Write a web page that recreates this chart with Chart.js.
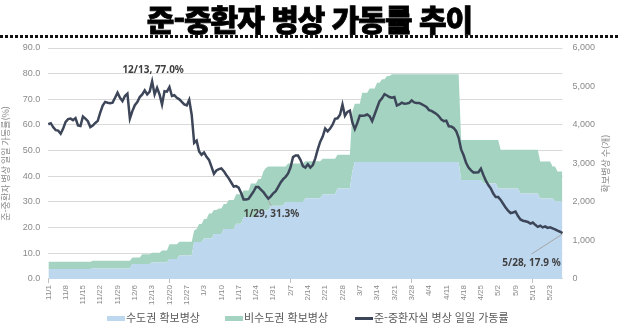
<!DOCTYPE html>
<html lang="ko">
<head>
<meta charset="utf-8">
<script src="https://cdn.jsdelivr.net/npm/chart.js@4.4.1/dist/chart.umd.min.js"></script>
<style>
  html, body { margin: 0; padding: 0; background: #fff; }
  #wrap { position: relative; width: 619px; height: 334px; overflow: hidden; }
  #title { position: absolute; left: 0; top: 3px; width: 619px; text-align: center;
           font: 900 30px/30px "Noto Sans CJK KR", sans-serif; letter-spacing: -1px; color: #000;
           -webkit-text-stroke: 0.8px #000; }
  #dots { position: absolute; left: 0; top: 35px; width: 619px; height: 3px;
          background-image: linear-gradient(to right, #111 60%, transparent 60%); background-size: 5px 3px; }
  canvas { position: absolute; left: 0; top: 0; }
  .ley { position: absolute; top: 309px; height: 16px; font: 11px/16px "Noto Sans CJK KR", sans-serif;
         color: #595959; white-space: nowrap; }
  .ley i { display: inline-block; width: 18px; height: 5px; vertical-align: middle; margin-right: 1px;
           position: relative; top: -1px; }
</style>
</head>
<body>
<div id="wrap">
  <canvas id="grafico" width="619" height="334"></canvas>
  <div id="title">준-중환자 병상 가동률 추이</div>
  <div id="dots"></div>
  <div id="leyenda"></div>
</div>
<script>
// 2021-11-01 ~ 2022-05-28 (daily)
const dayCount = 209;
const dateLabels = [];
for (let i = 0; i < dayCount; i++) {
    let d = new Date(2021, 10, 1 + i);
    dateLabels.push(`${d.getMonth() + 1}/${d.getDate()}`);
}

const leftTicks = [0, 10, 20, 30, 40, 50, 60, 70, 80, 90];
const rightTicks = [0, 1000, 2000, 3000, 4000, 5000, 6000];

// 수도권 확보병상
const capitalBeds = [
    257, 257, 257, 257, 257, 257, 257, 257, 257, 257,
    257, 257, 257, 257, 257, 257, 257, 257, 275, 275,
    275, 275, 275, 275, 275, 275, 275, 275, 275, 275,
    275, 275, 275, 275, 390, 390, 390, 390, 390, 390,
    390, 390, 430, 430, 430, 430, 430, 430, 430, 520,
    520, 520, 520, 610, 610, 610, 610, 610, 610, 960,
    960, 960, 960, 1050, 1050, 1050, 1050, 1170, 1170, 1170,
    1170, 1300, 1300, 1300, 1300, 1300, 1435, 1435, 1435, 1610,
    1610, 1610, 1610, 1610, 1610, 1785, 1785, 1785, 1785, 1785,
    1900, 1900, 1900, 1900, 1900, 1900, 2000, 2000, 2000, 2000,
    2000, 2000, 2000, 2000, 2100, 2100, 2100, 2100, 2100, 2100,
    2100, 2200, 2200, 2200, 2200, 2200, 2200, 2350, 2350, 2350,
    2350, 2350, 2350, 2790, 3040, 3040, 3040, 3040, 3040, 3040,
    3040, 3040, 3040, 3040, 3040, 3040, 3040, 3040, 3040, 3040,
    3040, 3040, 3040, 3040, 3040, 3040, 3040, 3040, 3040, 3040,
    3040, 3040, 3040, 3040, 3040, 3040, 3040, 3040, 3040, 3040,
    3040, 3040, 3040, 3040, 3040, 3040, 3040, 2570, 2570, 2570,
    2570, 2570, 2570, 2570, 2570, 2570, 2480, 2480, 2480, 2480,
    2480, 2480, 2350, 2350, 2350, 2350, 2350, 2350, 2350, 2350,
    2350, 2220, 2220, 2220, 2220, 2220, 2220, 2220, 2220, 2090,
    2090, 2090, 2090, 2090, 2090, 2020, 2020, 2020, 2020
];

// 비수도권 확보병상
const nonCapitalBeds = [
    188, 188, 188, 188, 188, 188, 188, 188, 188, 188,
    188, 188, 188, 188, 188, 188, 188, 188, 200, 200,
    200, 200, 200, 200, 200, 200, 200, 200, 200, 200,
    200, 200, 200, 200, 170, 170, 170, 170, 250, 250,
    250, 250, 250, 250, 250, 250, 310, 310, 310, 380,
    380, 380, 380, 355, 355, 355, 355, 355, 355, 300,
    340, 470, 470, 510, 510, 650, 650, 620, 620, 660,
    660, 650, 650, 750, 750, 750, 765, 765, 765, 690,
    690, 690, 870, 870, 870, 815, 815, 1005, 1095, 1135,
    1020, 1020, 1020, 1020, 1020, 1020, 920, 1000, 1000, 1000,
    1000, 1000, 1000, 1000, 960, 960, 960, 960, 960, 960,
    960, 920, 920, 920, 920, 920, 920, 875, 875, 875,
    875, 875, 875, 1570, 1510, 1510, 1510, 1800, 1800, 1800,
    1910, 1910, 1910, 2060, 2060, 2150, 2150, 2235, 2235, 2280,
    2280, 2280, 2280, 2280, 2280, 2280, 2280, 2280, 2280, 2280,
    2280, 2280, 2280, 2280, 2280, 2280, 2280, 2280, 2280, 2280,
    2280, 2280, 2280, 2280, 2280, 2280, 2280, 1040, 1040, 1040,
    1040, 1040, 1040, 1040, 1040, 1040, 1130, 1130, 1130, 1130,
    1130, 1130, 1260, 1010, 1010, 1010, 1010, 1010, 1010, 1010,
    1010, 1140, 1140, 1140, 1140, 1140, 1140, 1140, 1140, 960,
    960, 960, 960, 960, 830, 900, 770, 770, 770
];

// 준-중환자실 병상 일일 가동률 (%)
const occupancyRate = [
    60.3, 60.7, 59.1, 58.0, 57.8, 56.6, 58.6, 61.2, 62.3, 62.5,
    61.9, 62.7, 59.8, 59.6, 63.3, 62.5, 61.5, 59.2, 59.8, 60.8,
    61.6, 64.8, 67.6, 69.0, 68.7, 68.5, 68.7, 70.6, 72.6, 70.6,
    69.3, 71.3, 72.2, 62.5, 65.4, 67.7, 68.9, 70.9, 71.9, 73.5,
    71.9, 73.0, 77.0, 71.9, 74.5, 71.9, 68.0, 73.2, 73.0, 74.8,
    71.3, 71.6, 70.6, 70.0, 69.0, 68.0, 67.6, 69.8, 64.0, 53.0,
    53.9, 49.7, 48.4, 49.3, 47.6, 46.4, 43.8, 41.0, 42.3, 42.8,
    43.1, 42.0, 40.5, 39.2, 37.6, 36.0, 36.2, 35.6, 33.5, 31.0,
    31.0, 31.2, 32.6, 34.0, 35.8, 35.8, 34.8, 33.9, 32.5, 31.3,
    32.2, 33.4, 34.2, 35.9, 37.6, 38.9, 39.8, 41.1, 43.5, 47.5,
    48.1, 48.1, 46.4, 44.0, 43.4, 44.7, 43.4, 44.4, 47.0, 50.5,
    53.5, 55.5, 58.6, 57.5, 58.6, 60.1, 62.4, 62.6, 64.0, 68.0,
    63.6, 65.1, 65.6, 61.0, 58.4, 60.8, 63.7, 63.6, 63.7, 64.1,
    63.4, 61.5, 64.1, 66.7, 69.3, 70.4, 72.0, 71.5, 70.9, 70.6,
    70.9, 67.6, 68.0, 68.7, 68.3, 68.4, 68.6, 69.6, 68.8, 68.6,
    68.6, 68.1, 67.6, 67.0, 65.8, 65.5, 64.9, 64.3, 63.4, 62.1,
    61.5, 61.7, 59.5, 59.4, 58.8, 57.6, 55.0, 50.5, 48.2, 45.3,
    43.4, 42.3, 41.5, 41.5, 41.6, 43.0, 40.5, 38.3, 36.6, 35.3,
    33.3, 31.9, 31.9, 30.8, 29.3, 27.8, 26.6, 25.7, 25.9, 26.3,
    24.5, 23.2, 22.7, 22.5, 22.2, 21.6, 22.0, 21.1, 20.3, 20.8,
    20.1, 20.5, 19.9, 20.1, 19.7, 19.3, 18.8, 18.4, 17.9
];

const calloutIdx = [42, 89, 208];
const calloutText = ['12/13, 77.0%', '1/29, 31.3%', '5/28, 17.9 %'];

const seriesNames = ['수도권 확보병상', '비수도권 확보병상', '준-중환자실 병상 일일 가동률'];
const seriesColors = ['#bdd7ee', '#a4d4c1', '#3d4659'];
const legendLeft = [107, 225, 355];

const tickFont = { family: '"Liberation Sans", sans-serif', size: 9 };
const grisTexto = '#8a8a8a';

const calloutPlugin = {
    id: 'callouts',
    afterDatasetsDraw(chart) {
        let ctx = chart.ctx;
        let pts = chart.getDatasetMeta(2).data;
        ctx.save();
        ctx.strokeStyle = '#a6a6a6';
        ctx.lineWidth = 1;
        let p = pts[calloutIdx[1]];
        ctx.beginPath(); ctx.moveTo(p.x, p.y + 2); ctx.lineTo(p.x + 3, p.y + 7); ctx.stroke();
        p = pts[calloutIdx[2]];
        ctx.beginPath(); ctx.moveTo(p.x, p.y + 1); ctx.lineTo(p.x - 31, p.y + 21); ctx.stroke();

        ctx.font = 'bold 10px "Noto Sans", sans-serif';
        ctx.fillStyle = '#404040';
        ctx.textAlign = 'center';
        ctx.textBaseline = 'middle';
        p = pts[calloutIdx[0]];
        ctx.fillText(calloutText[0], p.x + 1, p.y - 11);
        p = pts[calloutIdx[1]];
        ctx.fillText(calloutText[1], p.x + 3, p.y + 16);
        p = pts[calloutIdx[2]];
        ctx.fillText(calloutText[2], p.x - 31, p.y + 30);

        // right axis title, reading bottom to top like the left one
        let area = chart.chartArea;
        ctx.translate(606, (area.top + area.bottom) / 2);
        ctx.rotate(-Math.PI / 2);
        ctx.font = '9px "Noto Sans CJK KR", sans-serif';
        ctx.fillStyle = grisTexto;
        ctx.fillText('확보병상 수(개)', 0, 0);
        ctx.restore();
    }
};

let ctx = document.getElementById('grafico').getContext('2d');
let grafico = new Chart(ctx, {
    type: 'line',
    data: {
        labels: dateLabels,
        datasets: [{
            label: seriesNames[0],
            data: capitalBeds,
            yAxisID: 'y2',
            backgroundColor: seriesColors[0],
            borderColor: seriesColors[0],
            borderWidth: 0,
            pointRadius: 0,
            fill: 'origin',
            order: 1
        }, {
            label: seriesNames[1],
            data: nonCapitalBeds,
            yAxisID: 'y2',
            backgroundColor: seriesColors[1],
            borderColor: seriesColors[1],
            borderWidth: 0,
            pointRadius: 0,
            fill: '-1',
            order: 2
        }, {
            label: seriesNames[2],
            data: occupancyRate,
            yAxisID: 'y',
            backgroundColor: seriesColors[2],
            borderColor: seriesColors[2],
            borderWidth: 2.5,
            pointRadius: 0,
            tension: 0,
            fill: false,
            order: 0
        }]
    },
    options: {
        responsive: false,
        animation: false,
        layout: { padding: { top: 48, left: 0, right: 14, bottom: 27 } },
        plugins: {
            legend: { display: false },
            tooltip: { enabled: false }
        },
        scales: {
            x: {
                offset: false,
                grid: {
                    drawOnChartArea: false,
                    tickLength: 4,
                    color: (c) => c.index % 7 === 0 ? '#bfbfbf' : 'transparent'
                },
                border: { color: '#d9d9d9' },
                ticks: {
                    autoSkip: false,
                    maxRotation: 90,
                    minRotation: 90,
                    padding: 2,
                    color: grisTexto,
                    font: { family: '"Liberation Sans", sans-serif', size: 8 },
                    callback: (v, i) => i % 7 === 0 ? dateLabels[i] : null
                }
            },
            y: {
                position: 'left',
                min: leftTicks[0],
                max: leftTicks[leftTicks.length - 1],
                stacked: false,
                grid: { color: '#d9d9d9', drawTicks: false },
                border: { display: false },
                ticks: {
                    stepSize: 10,
                    padding: 8,
                    color: grisTexto,
                    font: tickFont,
                    callback: (v) => v.toFixed(1)
                },
                title: {
                    display: true,
                    text: '준-중환자 병상 일일 가동률(%)',
                    color: grisTexto,
                    font: { family: '"Noto Sans CJK KR", sans-serif', size: 9 },
                    padding: { top: 0, bottom: 4 }
                }
            },
            y2: {
                position: 'right',
                min: rightTicks[0],
                max: rightTicks[rightTicks.length - 1],
                stacked: true,
                grid: { drawOnChartArea: false, drawTicks: false },
                border: { display: false },
                ticks: {
                    stepSize: 1000,
                    padding: 10,
                    color: grisTexto,
                    font: tickFont,
                    callback: (v) => v.toLocaleString('en-US')
                }
            }
        }
    },
    plugins: [calloutPlugin]
});

// legend, in dataset order
const renderizarLeyenda = () => {
    let leyenda = document.getElementById('leyenda');
    seriesNames.forEach((name, i) => {
        let item = document.createElement('div');
        item.className = 'ley';
        item.style.left = legendLeft[i] + 'px';
        let sw = document.createElement('i');
        sw.style.background = seriesColors[i];
        if (i === 2) { sw.style.height = '3px'; }
        item.appendChild(sw);
        item.appendChild(document.createTextNode(name));
        leyenda.appendChild(item);
    });
}
renderizarLeyenda();
</script>
</body>
</html>
